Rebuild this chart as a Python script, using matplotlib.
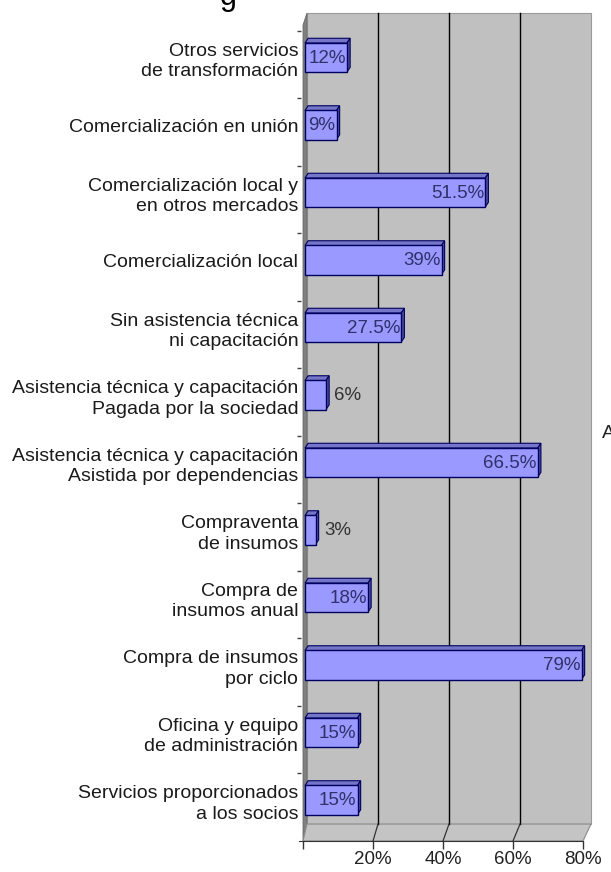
import matplotlib
matplotlib.use("Agg")
import matplotlib.pyplot as plt
from matplotlib.patches import Polygon

plt.rcParams['font.family'] = ['Liberation Sans', 'DejaVu Sans']

# categorias (de arriba hacia abajo) y porcentajes
categorias = [
    "Otros servicios\nde transformación",
    "Comercialización en unión",
    "Comercialización local y\nen otros mercados",
    "Comercialización local",
    "Sin asistencia técnica\nni capacitación",
    "Asistencia técnica y capacitación\nPagada por la sociedad",
    "Asistencia técnica y capacitación\nAsistida por dependencias",
    "Compraventa\nde insumos",
    "Compra de\ninsumos anual",
    "Compra de insumos\npor ciclo",
    "Oficina y equipo\nde administración",
    "Servicios proporcionados\na los socios",
]
porcentajes = [12, 9, 51.5, 39, 27.5, 6, 66.5, 3, 18, 79, 15, 15]
ticks_x = [0, 20, 40, 60, 80]
ticks_x_txt = ["", "20%", "40%", "60%", "80%"]

W, H = 611, 872
fig = plt.figure(figsize=(W / 100, H / 100), dpi=100)

# ejes colocados en pixeles: x = 305 + 3.5*v, y = 57.5 + 67.5*i
ax_l, ax_r, ax_t, ax_b = 301, 605, 5, 850
ax = fig.add_axes([ax_l / W, 1 - ax_b / H, (ax_r - ax_l) / W, (ax_b - ax_t) / H])
ax.set_xlim((ax_l - 305) / 3.5, (ax_r - 305) / 3.5)
ax.set_ylim((ax_b - 57.5) / 67.5, (ax_t - 57.5) / 67.5)

# planos del efecto 3D
def fx(v):   # plano frontal
    return v - 0.571

def bx(v):   # pared del fondo
    return 0.571 + 1.0143 * v

y_top_b, y_bot_b = -0.659, 11.356
y_top_f, y_bot_f = -0.481, 11.607

pared = Polygon([(bx(0), y_top_b), (bx(80), y_top_b), (bx(80), y_bot_b), (bx(0), y_bot_b)],
                closed=True, facecolor='#c0c0c0', edgecolor='#9a9a9a', lw=0.8, zorder=1)
ax.add_patch(pared)
lateral = Polygon([(fx(0), y_top_f), (bx(0), y_top_b), (bx(0), y_bot_b), (fx(0), y_bot_f)],
                  closed=True, facecolor='#808080', edgecolor='#6a6a6a', lw=0.6, zorder=1)
ax.add_patch(lateral)
piso = Polygon([(bx(0), y_bot_b), (bx(80), y_bot_b), (fx(80), y_bot_f), (fx(0), y_bot_f)],
               closed=True, facecolor='#c4c4c4', edgecolor='#8a8a8a', lw=0.8, zorder=1)
ax.add_patch(piso)

for v in ticks_x[1:4]:
    ax.plot([bx(v), bx(v)], [y_top_b, y_bot_b], color='black', lw=1, zorder=2)
    ax.plot([bx(v), fx(v)], [y_bot_b, y_bot_f], color='#333333', lw=0.9, zorder=2)

# barras
h = 0.43
ddx, ddy = 0.9, -0.07
y = list(range(len(categorias)))
ax.barh(y, porcentajes, height=h, left=0, color='#9999ff', edgecolor='#000060',
        lw=1.0, zorder=4)
for i, v in zip(y, porcentajes):
    arriba = Polygon([(0, i - h / 2), (v, i - h / 2), (v + ddx, i - h / 2 + ddy), (ddx, i - h / 2 + ddy)],
                     closed=True, facecolor='#7676c8', edgecolor='#000060', lw=0.8, zorder=3)
    lado = Polygon([(v, i - h / 2), (v + ddx, i - h / 2 + ddy), (v + ddx, i + h / 2 + ddy), (v, i + h / 2)],
                   closed=True, facecolor='#4c4c99', edgecolor='#000060', lw=0.8, zorder=3)
    ax.add_patch(arriba)
    ax.add_patch(lado)
    txt = f"{v:g}%"
    if v < 8:
        ax.text(v + 2.4, i, txt, ha='left', va='center', fontsize=13.5,
                color='#333333', zorder=5)
    else:
        ax.text(v - 0.3, i + 0.01, txt, ha='right', va='center', fontsize=13.5,
                color='#30306a', zorder=5)

# ejes
for s in ['top', 'right', 'left']:
    ax.spines[s].set_visible(False)
ax.spines['bottom'].set_position(('data', y_bot_f))
ax.spines['bottom'].set_bounds(fx(0) - 1.2, fx(80))
ax.spines['bottom'].set_color('#333333')
ax.spines['bottom'].set_zorder(6)

ax.set_xticks([fx(v) for v in ticks_x])
ax.set_xticklabels(ticks_x_txt, fontsize=13.5, color='#222222')
ax.tick_params(axis='x', direction='out', length=6, width=1, color='#333333', pad=1)

ax.set_yticks(y)
ax.set_yticklabels(categorias, fontsize=14, color='#1a1a1a', linespacing=1.3,
                   multialignment='right')
ax.tick_params(axis='y', which='major', length=0, pad=2)
ax.set_yticks([i + 0.6 for i in [-1] + y[:-1]], minor=True)
ax.tick_params(axis='y', which='minor', direction='out', length=3, width=1, color='#444444')
ax.patch.set_alpha(0)

# restos de textos cortados en los bordes
fig.text(228 / W, 1 - 5 / H, "g", fontsize=22, ha='center', va='baseline', color='black')
fig.text(602 / W, 1 - 438 / H, "A", fontsize=14, ha='left', va='baseline', color='#222222')

fig.savefig("out.png", dpi=100)
